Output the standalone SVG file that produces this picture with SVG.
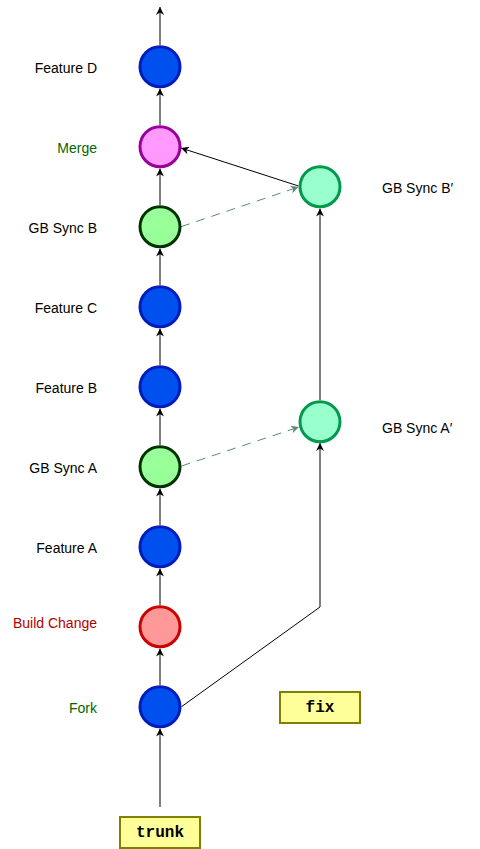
<svg xmlns="http://www.w3.org/2000/svg" width="480" height="849" viewBox="0 0 480 849">
<style>
.lbl{font-family:"Liberation Sans",Arial,Helvetica,sans-serif;font-size:14px;fill:#000}
.end{text-anchor:end}
.green{fill:#006600}
.red{fill:#b20000}
.node{stroke-width:3}
.blue{fill:#0050ef;stroke:#001dbc}
.edge{fill:none;stroke:#000;stroke-width:1}
.dash{fill:none;stroke:#5f8a76;stroke-width:1;stroke-dasharray:9 7}
.box{fill:#ffff99;stroke:#808000;stroke-width:2}
.mono{font-family:"Liberation Mono","Courier New",monospace;font-size:16px;font-weight:bold;text-anchor:middle;fill:#000}
</style>
<defs>
<marker id="arr" viewBox="0 0 10 10" markerWidth="8" markerHeight="8" refX="10" refY="5" orient="auto" markerUnits="userSpaceOnUse">
<path d="M0,0 L10,5 L0,10 L3,5 z" fill="#000"/>
</marker>
<marker id="arrd" viewBox="0 0 10 10" markerWidth="8" markerHeight="8" refX="10" refY="5" orient="auto" markerUnits="userSpaceOnUse">
<path d="M0,0 L10,5 L0,10 L3,5 z" fill="#5f8a76"/>
</marker>
</defs>
<g id="connectors">
<line class="edge" x1="160" y1="45" x2="160" y2="7" marker-end="url(#arr)"/>
<line class="edge" x1="160" y1="125" x2="160" y2="88.5" marker-end="url(#arr)"/>
<line class="edge" x1="160" y1="205" x2="160" y2="168.5" marker-end="url(#arr)"/>
<line class="edge" x1="160" y1="285" x2="160" y2="248.5" marker-end="url(#arr)"/>
<line class="edge" x1="160" y1="365" x2="160" y2="328.5" marker-end="url(#arr)"/>
<line class="edge" x1="160" y1="445" x2="160" y2="408.5" marker-end="url(#arr)"/>
<line class="edge" x1="160" y1="525" x2="160" y2="488.5" marker-end="url(#arr)"/>
<line class="edge" x1="160" y1="605" x2="160" y2="568.5" marker-end="url(#arr)"/>
<line class="edge" x1="160" y1="685" x2="160" y2="648.5" marker-end="url(#arr)"/>
<line class="edge" x1="160" y1="807" x2="160" y2="728.5" marker-end="url(#arr)"/>
<polyline class="edge" points="181.5,706.7 320,607 320,443" marker-end="url(#arr)"/>
<line class="edge" x1="320" y1="400" x2="320" y2="208.5" marker-end="url(#arr)"/>
<line class="edge" x1="298.5" y1="186" x2="181" y2="148" marker-end="url(#arr)"/>
<line class="dash" x1="181" y1="226.7" x2="298.5" y2="187" marker-end="url(#arrd)"/>
<line class="dash" x1="181.5" y1="466" x2="299" y2="427" marker-end="url(#arrd)"/>
</g>
<g id="feature-d"><circle class="node blue" cx="160" cy="66.7" r="20"/><text class="lbl end" x="97" y="73.3">Feature D</text></g>
<g id="merge"><circle class="node" cx="160" cy="146.7" r="20" fill="#ff99ff" stroke="#990099"/><text class="lbl end green" x="97" y="153.3">Merge</text></g>
<g id="gb-sync-b"><circle class="node" cx="160" cy="226.7" r="20" fill="#99ff99" stroke="#003300"/><text class="lbl end" x="97" y="233.3">GB Sync B</text></g>
<g id="feature-c"><circle class="node blue" cx="160" cy="306.7" r="20"/><text class="lbl end" x="97" y="313.3">Feature C</text></g>
<g id="feature-b"><circle class="node blue" cx="160" cy="386.7" r="20"/><text class="lbl end" x="97" y="393.3">Feature B</text></g>
<g id="gb-sync-a"><circle class="node" cx="160" cy="466.7" r="20" fill="#99ff99" stroke="#003300"/><text class="lbl end" x="97" y="473.3">GB Sync A</text></g>
<g id="feature-a"><circle class="node blue" cx="160" cy="546.7" r="20"/><text class="lbl end" x="97" y="553.3">Feature A</text></g>
<g id="build-change"><circle class="node" cx="160" cy="626.7" r="20" fill="#ff9999" stroke="#cc0000"/><text class="lbl end red" x="97" y="628.3">Build Change</text></g>
<g id="fork"><circle class="node blue" cx="160" cy="706.7" r="20"/><text class="lbl end green" x="97" y="713.3">Fork</text></g>
<g id="gb-sync-b-prime"><circle class="node" cx="320" cy="186.7" r="20" fill="#99ffcc" stroke="#00994d"/><text class="lbl" x="382" y="193.3">GB Sync B′</text></g>
<g id="gb-sync-a-prime"><circle class="node" cx="320" cy="421.7" r="20" fill="#99ffcc" stroke="#00994d"/><text class="lbl" x="382" y="433.3">GB Sync A′</text></g>
<g id="trunk"><rect class="box" x="120" y="817" width="80" height="31"/><text class="mono" x="160" y="837">trunk</text></g>
<g id="fix"><rect class="box" x="280" y="692" width="80" height="31"/><text class="mono" x="320" y="712">fix</text></g>
</svg>
